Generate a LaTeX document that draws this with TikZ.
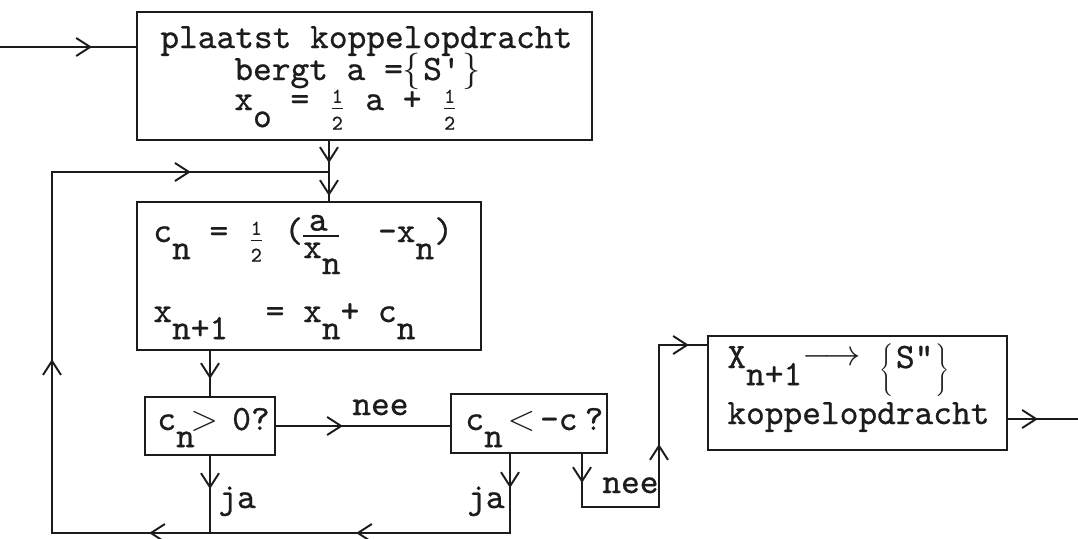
\documentclass[tikz,border=0pt]{standalone}
\usepackage{fontspec}
\newfontfamily\tw{lmmono10-regular.otf}[FakeBold=0.7]
\usetikzlibrary{arrows.meta,decorations.markings}
\definecolor{ink}{RGB}{28,28,28}
\newcommand\sbs[1]{\raisebox{-0.48em}{#1}}
\newcommand\hlf{\makebox[0.525em]{\raisebox{-0.2em}{$\frac{\mbox{\tw\fontsize{12}{12}\selectfont 1}}{\mbox{\tw\fontsize{12}{12}\selectfont 2}}$}}}
\newcommand\afrac{\makebox[1.05em][l]{\rlap{\makebox[0.85em]{\raisebox{0.32em}{a}}}\rlap{\rule[0.13em]{1.0em}{0.06em}}\raisebox{-0.45em}{x\raisebox{-0.45em}{n}}}}
\newcommand\brL[2]{$\left\{\vrule height #1 depth #2 width 0pt\right.$}
\newcommand\brR[2]{$\left.\vrule height #1 depth #2 width 0pt\right\}$}
\begin{document}
\begin{tikzpicture}[x=0.02cm,y=-0.02cm,
  ln/.style={draw=ink, line width=1.1pt, line cap=rect},
  mid/.style={postaction={decorate, decoration={markings, mark=at position #1 with {\arrow{Straight Barb[length=2.8mm,width=3.6mm]}}}}},
  box/.style={draw=ink, line width=1.1pt, rectangle, inner sep=0pt},
  txt/.style={inner sep=0pt, anchor=base west, text=ink, font=\tw\fontsize{20.3}{24}\selectfont}]
\useasboundingbox (0,0) rectangle (1078,538);
% boxes
\node[box, minimum width=9.1cm, minimum height=2.56cm] (b1) at (364.5,76) {};
\node[box, minimum width=6.88cm, minimum height=2.96cm] (b2) at (309,276) {};
\node[box, minimum width=2.6cm, minimum height=1.16cm] (b3) at (210,426) {};
\node[box, minimum width=3.12cm, minimum height=1.18cm] (b4) at (529,423.5) {};
\node[box, minimum width=5.98cm, minimum height=2.28cm] (b5) at (857.5,393) {};
% texts
\node[txt] (t1) at (160,48) {plaatst koppelopdracht};
\node[txt] (t2) at (234,80) {bergt\ a\ =\brL{14pt}{5.7pt}S\textquotesingle\brR{14pt}{5.7pt}};
\node[txt] (t3) at (234,110) {x\sbs{o}\ =\ \hlf\ a\ +\ \hlf};
\node[txt] (t4) at (153,242) {c\sbs{n}\ =\ \hlf\ (\afrac\ \ -x\sbs{n})};
\node[txt] (t5) at (153,322) {x\sbs{n+1}\ \ =\ x\sbs{n}+\ c\sbs{n}};
\node[txt] (t6) at (157,430) {c\sbs{n}\makebox[0.525em]{$>$}\ 0?};
\node[txt] (t7) at (465,430) {c\sbs{n}\hspace{0.26em}\makebox[0.525em]{$<$}\hspace{0.26em}-c\hspace{0.2em}?};
\node[txt] (t8) at (727,368) {X\sbs{n+1}\raisebox{0.08em}{$\longrightarrow$}\ \raisebox{-6.5pt}{\brL{19.7pt}{9.8pt}}S\textquotedbl\raisebox{-6.5pt}{\brR{19.7pt}{9.8pt}}};
\node[txt] (t9) at (727,424) {koppelopdracht};
\node[txt] (l1) at (352,415) {nee};
\node[txt] (l2) at (218,508) {ja};
\node[txt, anchor=base east] (l3) at (505,508) {ja};
\node[txt] (l4) at (602,493) {nee};
% coordinates
\coordinate (in) at (0,47);
\coordinate (j1) at (329,172);
\coordinate (lt) at (52,172);
\coordinate (lb) at (52,533);
\coordinate (r1) at (510,533);
\coordinate (n1) at (582,507);
\coordinate (n2) at (659,507);
\coordinate (n3) at (659,345);
\coordinate (out) at (1078,419);
% connectors
\draw[ln, mid=1.84cm] (in) -- (in -| b1.west);
\draw[ln, mid=0.44cm, mid=1.1cm] (b1.south -| j1) -- (j1 |- b2.north);
\draw[ln, mid=0.56cm] (b2.south -| b3.north) -- (b3.north);
\draw[ln, mid=0.66cm] (b3.south) -- (b3.south |- lb);
\draw[ln, mid=1.34cm] (b3.east) -- (b3.east -| b4.west);
\draw[ln, mid=0.68cm, mid=4.66cm, mid=8.8cm, mid=14.22cm, mid=20.74cm]
  (b4.south -| r1) -- (r1) -- (lb) -- (lt) -- (j1);
\draw[ln, mid=0.58cm, mid=3.86cm, mid=6.44cm]
  (b4.south -| n1) -- (n1) -- (n2) -- (n3) -- (n3 -| b5.west);
\draw[ln, mid=0.6cm] (b5.east |- out) -- (out);
\end{tikzpicture}
\end{document}
